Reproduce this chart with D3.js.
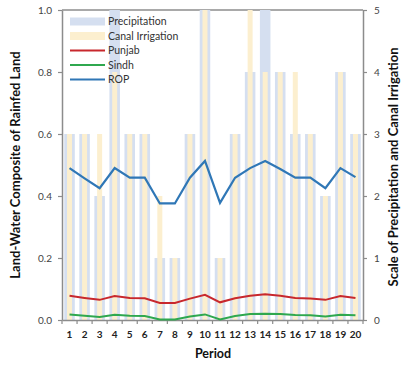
<!DOCTYPE html>
<html><head><meta charset="utf-8">
<script src="https://cdn.jsdelivr.net/npm/d3@7"></script>
<style>body{margin:0;background:#fff}svg{display:block;font-family:Lato,"Open Sans",sans-serif}</style>
</head><body><svg id="c" width="405" height="367"></svg>
<script>
const periods = ["1","2","3","4","5","6","7","8","9","10","11","12","13","14","15","16","17","18","19","20"];
const precipitation = [3,3,2,5,3,3,1,1,3,5,1,3,4,5,4,3,3,2,4,3];
const canalIrrigation = [3,3,3,4,3,3,2,1,3,5,1,3,5,4,4,4,3,2,4,3];
const punjab = [0.078,0.071,0.065,0.077,0.071,0.070,0.055,0.055,0.069,0.081,0.057,0.070,0.078,0.083,0.078,0.071,0.069,0.065,0.077,0.071];
const sindh = [0.018,0.014,0.010,0.017,0.014,0.013,0.002,0.002,0.011,0.018,0.002,0.013,0.019,0.020,0.019,0.016,0.015,0.011,0.017,0.015];
const rop = [0.49,0.457,0.425,0.49,0.459,0.459,0.376,0.376,0.459,0.513,0.378,0.459,0.49,0.513,0.487,0.459,0.459,0.425,0.49,0.461];
const leftTicks = [0,0.2,0.4,0.6,0.8,1.0];
const rightTicks = [0,1,2,3,4,5];

const svg = d3.select("#c");
const L=62, R=363, T=10, B=320;
const x = d3.scaleBand().domain(periods).range([L,R]);
const y = d3.scaleLinear().domain([0,1]).range([B,T]);
const y2 = d3.scaleLinear().domain([0,5]).range([B,T]);
const axisCol = "#8c8c8c";
const blueBar = "#d5dff0", yellowBar = "#fcefcf";

// frame top
svg.append("line").attr("x1",L).attr("x2",R).attr("y1",T).attr("y2",T).attr("stroke",axisCol).attr("stroke-width",1.5);

// bars
const bw = x.bandwidth();
svg.append("g").selectAll("rect").data(periods).join("rect")
  .attr("x",d=>x(d)+bw*0.15).attr("width",bw*0.7)
  .attr("y",(d,i)=>y2(precipitation[i])).attr("height",(d,i)=>B-y2(precipitation[i]))
  .attr("fill",blueBar);
svg.append("g").selectAll("rect").data(periods).join("rect")
  .attr("x",d=>x(d)+bw*0.5-2.5).attr("width",5)
  .attr("y",(d,i)=>y2(canalIrrigation[i])).attr("height",(d,i)=>B-y2(canalIrrigation[i]))
  .attr("fill",yellowBar);

// axes
const gl = svg.append("g").attr("transform",`translate(${L},0)`)
  .call(d3.axisLeft(y).tickValues(leftTicks).tickFormat(d3.format(".1f")).tickSize(4).tickSizeOuter(0));
const gr = svg.append("g").attr("transform",`translate(${R},0)`)
  .call(d3.axisRight(y2).tickValues(rightTicks).tickFormat(d3.format("d")).tickSize(4).tickSizeOuter(0));
const gb = svg.append("g").attr("transform",`translate(0,${B})`)
  .call(d3.axisBottom(x).tickSize(0).tickSizeOuter(0));
const bounds = periods.map(p=>x(p)).concat([R]);
svg.append("g").selectAll("line").data(bounds).join("line")
  .attr("x1",d=>d).attr("x2",d=>d).attr("y1",B).attr("y2",B+4).attr("stroke",axisCol).attr("stroke-width",1.2);
[gl,gr,gb].forEach(g=>{
  g.selectAll(".domain").attr("stroke",axisCol).attr("stroke-width",1.5);
  g.selectAll(".tick line").attr("stroke",axisCol).attr("stroke-width",1.2);
  g.selectAll(".tick text").attr("fill","#444").attr("font-size",10).attr("font-family","Lato,sans-serif");
});
gb.selectAll(".tick text").attr("dy","1.5em").attr("font-weight","bold").attr("fill","#222");
gl.selectAll(".tick text").attr("dx","-3");
gr.selectAll(".tick text").attr("dx","4");

// lines
const line = arr => d3.line().x((d,i)=>x(periods[i])+bw/2).y(d=>y(d))(arr);
svg.append("path").attr("d",line(sindh)).attr("fill","none").attr("stroke","#2fa84f").attr("stroke-width",2);
svg.append("path").attr("d",line(punjab)).attr("fill","none").attr("stroke","#c8282d").attr("stroke-width",2);
svg.append("path").attr("d",line(rop)).attr("fill","none").attr("stroke","#2f77b6").attr("stroke-width",2.2);

// titles
svg.append("text").attr("transform","translate(20,165) rotate(-90)").attr("text-anchor","middle")
  .attr("font-size",13).attr("font-weight","bold").attr("fill","#111").text("Land-Water Composite of Rainfed Land");
svg.append("text").attr("transform","translate(398,167) rotate(-90)").attr("text-anchor","middle")
  .attr("font-size",13).attr("font-weight","bold").attr("fill","#111").text("Scale of Precipitation and Canal Irrigation");
svg.append("text").attr("x",213).attr("y",358).attr("text-anchor","middle")
  .attr("font-size",12.5).attr("font-weight","bold").attr("fill","#111").text("Period");

// legend
const legend = [
  {name:"Precipitation", color:blueBar, w:8},
  {name:"Canal Irrigation", color:yellowBar, w:8},
  {name:"Punjab", color:"#c8282d", w:2},
  {name:"Sindh", color:"#2fa84f", w:2},
  {name:"ROP", color:"#2f77b6", w:2}
];
const lg = svg.append("g").selectAll("g").data(legend).join("g")
  .attr("transform",(d,i)=>`translate(70,${21.5+i*14.5})`);
lg.append("line").attr("x1",0).attr("x2",35).attr("stroke",d=>d.color).attr("stroke-width",d=>d.w);
lg.append("text").attr("x",38).attr("dy","0.35em").attr("font-size",10.5).attr("fill","#333").text(d=>d.name);
</script></body></html>
